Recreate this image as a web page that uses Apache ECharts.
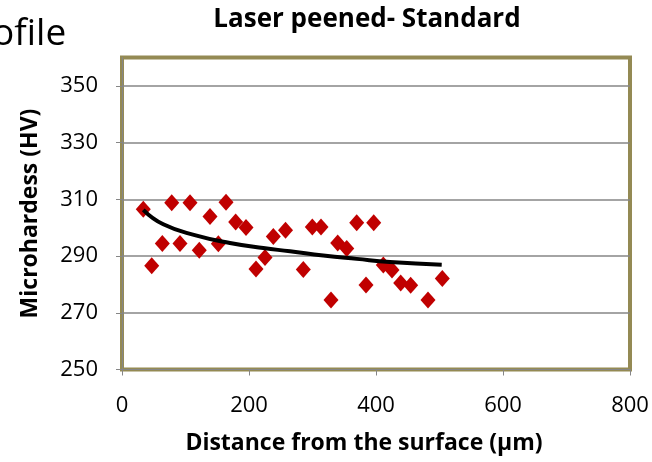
<!DOCTYPE html>
<html>
<head>
<meta charset="utf-8">
<script src="https://cdn.jsdelivr.net/npm/echarts@6/dist/echarts.min.js"></script>
<style>
  html, body { margin: 0; padding: 0; background: #fff; }
  #chart { width: 652px; height: 462px; }
</style>
</head>
<body>
<div id="chart"></div>
<script>
// measured points (distance um, hardness HV)
var distance = [33.5, 46.8, 63.5, 78.3, 91.3, 107.1, 121.7, 138.6, 151.7, 163.8,
  179, 195.3, 211, 225.2, 238.3, 257.5, 285.5, 299.7, 313.4, 329.1,
  339.7, 353.9, 369.6, 384.3, 396.4, 411.5, 425.2, 438.9, 454.6, 481.9, 504.4];
var hardness = [306.5, 286.6, 294.4, 308.8, 294.4, 308.8, 292.0, 303.9, 294.3, 309.0,
  302.0, 300.1, 285.4, 289.5, 296.9, 299.1, 285.3, 300.2, 300.2, 274.5,
  294.6, 292.7, 301.7, 279.8, 301.7, 286.8, 285.1, 280.5, 279.7, 274.5, 282.1];

// trend line
var trendX = [33.5, 65, 117.6, 170, 222.5, 264.6, 317, 369.6, 422, 503.5];
var trendY = [306.3, 301.2, 297.2, 294.6, 292.8, 291.7, 290.2, 289.0, 287.9, 286.9];

var xTicks = [0, 800, 200];
var yTicks = [250, 360, 20];

var font = 'Open Sans';
var gray = '#868686';

var points = distance.map(function (d, i) { return [d, hardness[i]]; });
var trend = trendX.map(function (d, i) { return [d, trendY[i]]; });

var chart = echarts.init(document.getElementById('chart'));
chart.setOption({
  animation: false,
  backgroundColor: '#fff',
  title: {
    text: 'Laser peened- Standard',
    left: 362,
    top: 2,
    textAlign: 'center',
    textStyle: { fontFamily: font, fontWeight: 'bold', fontSize: 26, color: '#000' }
  },
  graphic: [{
    type: 'text',
    left: -8,
    top: 16,
    style: { text: 'ofile', font: '37px "Open Sans"', fill: '#000' }
  }],
  grid: {
    left: 122, right: 22, top: 57.5, bottom: 92.5,
    show: true,
    borderColor: '#948A54',
    borderWidth: 4,
    backgroundColor: '#fff'
  },
  xAxis: {
    type: 'value',
    min: xTicks[0], max: xTicks[1], interval: xTicks[2],
    name: 'Distance from the surface (µm)',
    nameLocation: 'middle',
    nameGap: 62,
    nameTextStyle: { fontFamily: font, fontWeight: 'bold', fontSize: 23, color: '#000', padding: [0, 24, 0, 0] },
    axisLine: { show: true, lineStyle: { color: gray, width: 1 } },
    axisTick: { show: true, inside: false, length: 6, lineStyle: { color: gray } },
    axisLabel: { fontFamily: font, fontSize: 22, color: '#000', margin: 25 },
    splitLine: { show: false }
  },
  yAxis: {
    type: 'value',
    min: yTicks[0], max: yTicks[1], interval: yTicks[2],
    name: 'Microhardess (HV)',
    nameLocation: 'middle',
    nameGap: 80,
    nameTextStyle: { fontFamily: font, fontWeight: 'bold', fontSize: 23, color: '#000' },
    axisLine: { show: true, lineStyle: { color: gray, width: 1 } },
    axisTick: { show: true, inside: false, length: 6, lineStyle: { color: gray } },
    axisLabel: { fontFamily: font, fontSize: 22, color: '#000', margin: 24, showMaxLabel: false },
    splitLine: { show: true, showMinLine: false, showMaxLine: false, lineStyle: { color: gray, width: 1.5 } }
  },
  series: [{
    type: 'scatter',
    data: points,
    symbol: 'diamond',
    symbolSize: [15, 17],
    itemStyle: { color: '#C00000', opacity: 1 },
    z: 3
  }, {
    type: 'line',
    data: trend,
    smooth: true,
    showSymbol: false,
    lineStyle: { color: '#000', width: 4 },
    z: 4
  }]
});
</script>
</body>
</html>
